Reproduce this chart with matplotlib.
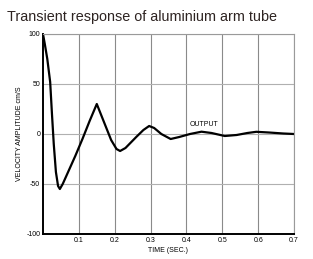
import matplotlib
matplotlib.use("Agg")
import matplotlib.pyplot as plt

# values
time = [0, 0.005, 0.012, 0.02, 0.025, 0.03, 0.036, 0.042, 0.047, 0.055, 0.07, 0.09,
        0.11, 0.13, 0.15, 0.17, 0.19, 0.205, 0.215, 0.23, 0.26, 0.28, 0.296, 0.31,
        0.33, 0.356, 0.38, 0.41, 0.442, 0.47, 0.507, 0.54, 0.57, 0.595, 0.63, 0.67, 0.7]
velocity = [100, 90, 75, 52, 20, -10, -38, -52, -55, -50, -38, -22,
            -5, 13, 30, 12, -6, -15, -17, -14, -3, 4, 8, 6,
            0, -5, -3, 0, 2.3, 1, -2, -1, 1, 2.2, 1.5, 0.5, 0]
xticks = [0.1, 0.2, 0.3, 0.4, 0.5, 0.6, 0.7]
yticks = [-100, -50, 0, 50, 100]
ylabels = ["-100", "-50", "0", "50", "100"]

plt.rcParams['font.family'] = ['Liberation Sans', 'DejaVu Sans']

fig = plt.figure(figsize=(3.13, 2.59), dpi=100)
ax = fig.add_axes([43 / 313, 25 / 259, 251 / 313, 200 / 259])

ax.plot(time, velocity, color='black', lw=1.6, solid_joinstyle='round')
ax.text(0.45, 9, "OUTPUT", fontsize=5, ha='center', va='center')

ax.set_xlim(0, 0.7)
ax.set_ylim(-100, 100)
ax.set_xticks(xticks)
ax.set_xticklabels([str(t) for t in xticks])
ax.set_yticks(yticks)
ax.set_yticklabels(ylabels)
ax.tick_params(length=0, labelsize=5, pad=2)
ax.grid(True, axis='x', color='#8a8a8a', lw=0.8)
ax.grid(True, axis='y', color='#b0b0b0', lw=0.8)
ax.set_axisbelow(True)

for side in ['top', 'right']:
    ax.spines[side].set_color('#9a9a9a')
    ax.spines[side].set_linewidth(0.8)
for side in ['left', 'bottom']:
    ax.spines[side].set_linewidth(1.4)

ax.set_xlabel("TIME (SEC.)", fontsize=5, labelpad=2)
ax.set_ylabel("VELOCITY AMPLITUDE cm/S", fontsize=5, labelpad=2)

fig.text(7 / 313, 1 - 17 / 259, "Transient response of aluminium arm tube",
         fontsize=10.4, color='#2e2422', va='center', ha='left')

fig.savefig("out.png", dpi=100)
